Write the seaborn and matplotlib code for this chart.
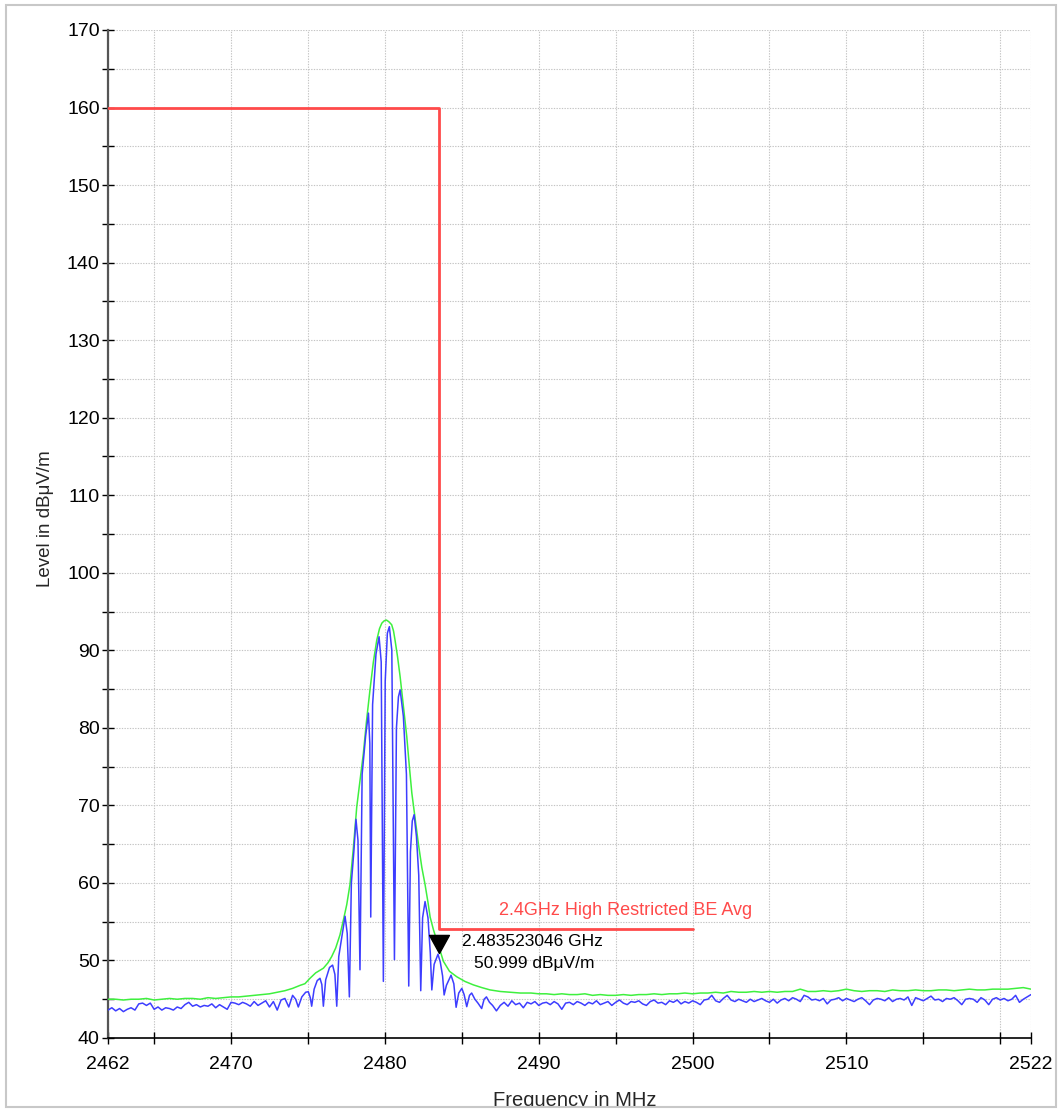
import numpy as np
import pandas as pd
import matplotlib
matplotlib.use("Agg")
import matplotlib.pyplot as plt
from matplotlib.path import Path
from matplotlib.patches import Rectangle
import seaborn as sns

# ---------------- data ----------------
# Blue trace (average detector), left noise floor 2462.00 .. 2474.00 step 0.25
blue_left_freq = np.arange(2462.0, 2474.001, 0.25)
blue_left_level = [
    43.6, 43.9, 43.5, 43.8, 43.4, 43.7, 43.9, 43.6,
    44.4, 44.5, 44.2, 44.5, 43.7, 44.0, 43.6, 43.9,
    43.8, 43.6, 44.0, 43.8, 44.3, 44.6, 44.1, 44.3,
    44.0, 44.2, 44.1, 44.4, 43.9, 44.3, 44.0, 43.7,
    44.6, 44.5, 44.3, 44.6, 44.4, 44.1, 44.7, 44.2,
    44.5, 44.8, 44.0, 44.7, 43.6, 44.9, 45.1, 44.0,
    45.5,
]

# Blue trace, emission region with lobes and nulls
blue_peak_freq = [
    2474.20, 2474.37, 2474.60, 2474.85, 2475.02, 2475.15, 2475.24, 2475.40,
    2475.60, 2475.78, 2475.90, 2476.00, 2476.15, 2476.40, 2476.60, 2476.75,
    2476.87, 2477.00, 2477.20, 2477.41, 2477.55, 2477.69, 2477.82, 2477.98,
    2478.12, 2478.25, 2478.38, 2478.52, 2478.75, 2478.93, 2479.02, 2479.08,
    2479.20, 2479.42, 2479.62, 2479.76, 2479.90, 2480.02, 2480.16, 2480.29,
    2480.45, 2480.62, 2480.75, 2480.88, 2480.99, 2481.20, 2481.40, 2481.55,
    2481.66, 2481.78, 2481.90, 2482.05, 2482.20, 2482.33, 2482.45, 2482.61,
    2482.80, 2482.95, 2483.05, 2483.20, 2483.45, 2483.60, 2483.75, 2483.85,
    2484.00, 2484.30, 2484.48, 2484.63, 2484.80, 2485.00, 2485.15, 2485.32,
    2485.50, 2485.64, 2485.85, 2486.05, 2486.29, 2486.45, 2486.60, 2486.80,
    2487.00,
]
blue_peak_level = [
    45.0, 44.0, 45.3, 45.9, 45.97, 45.2, 44.1, 46.3,
    47.4, 47.7, 46.9, 44.1, 47.5, 49.1, 49.4, 48.2,
    44.1, 50.5, 53.0, 55.7, 53.5, 45.3, 60.0, 64.0,
    68.2, 65.5, 48.8, 74.0, 79.0, 81.9, 78.0, 55.6,
    83.0, 89.5, 91.75, 88.5, 47.3, 86.0, 92.2, 93.05,
    90.0, 50.1, 80.0, 84.0, 84.9, 81.5, 74.0, 46.7,
    64.0, 68.0, 68.8, 66.0, 61.0, 46.1, 55.5, 57.6,
    55.5, 51.0, 46.2, 49.5, 50.8, 49.8, 48.0, 45.55,
    46.8, 48.1, 47.0, 43.96, 45.8, 46.4, 45.6, 44.04,
    45.5, 45.8, 45.0, 44.5, 43.8, 45.0, 45.3, 44.6,
    44.2,
]

# Blue trace, right noise floor 2487.25 .. 2522.00 step 0.25
blue_right_freq = np.arange(2487.25, 2522.001, 0.25)
blue_right_level = [
    43.5, 44.2, 44.6, 44.1, 44.8, 44.3, 44.5, 43.9,
    44.6, 44.4, 44.7, 44.2, 44.5, 44.6, 44.3, 44.7,
    44.4, 43.7, 44.5, 44.6, 44.3, 44.7, 44.5, 44.2,
    44.6, 44.4, 44.8, 44.3, 44.5, 44.7, 44.2, 44.6,
    44.9, 44.5, 44.3, 44.7, 44.6, 44.8, 44.4, 44.2,
    44.7, 44.9, 44.5, 44.6, 44.3, 44.8, 44.6, 44.9,
    44.4, 44.7, 44.5, 44.8, 44.6, 44.3, 44.9, 45.0,
    45.5, 44.8, 44.6, 45.1, 45.5, 44.9, 44.7, 45.0,
    44.8, 44.6, 45.0, 44.7, 44.9, 45.1, 44.8, 44.6,
    45.0, 44.5, 44.9, 45.1, 44.8, 45.2, 45.0, 44.7,
    45.5, 45.3, 44.9, 45.0, 44.8, 45.1, 44.4, 44.9,
    45.0, 45.2, 44.8, 45.1, 44.9, 44.7, 45.0, 45.2,
    44.8, 44.3, 44.9, 45.1, 45.0, 44.8, 45.2, 44.7,
    45.0, 45.1, 44.9, 45.3, 44.2, 45.2, 45.0, 44.8,
    45.1, 45.4, 44.9, 45.0, 44.7, 45.1, 45.0, 45.2,
    44.8, 44.3, 45.0, 45.1, 45.0, 44.6, 45.2, 44.9,
    44.3, 45.0, 45.2, 44.9, 45.1, 44.8, 45.0, 45.5,
    44.6, 45.0, 45.3, 45.6,
]

# Green trace (peak detector), left floor 2462.0 .. 2473.5 step 0.5
green_left_freq = np.arange(2462.0, 2473.501, 0.5)
green_left_level = [
    45.0, 45.0, 44.9, 45.0, 45.0, 45.1, 44.9, 45.0,
    45.1, 45.0, 45.1, 45.1, 45.0, 45.2, 45.1, 45.2,
    45.3, 45.3, 45.4, 45.5, 45.6, 45.7, 45.9, 46.1,
]

# Green trace, emission envelope
green_peak_freq = [
    2474.00, 2474.50, 2474.80, 2475.13, 2475.50, 2476.00, 2476.30, 2476.54,
    2476.80, 2477.08, 2477.30, 2477.52, 2477.73, 2477.95, 2478.17, 2478.40,
    2478.60, 2478.80, 2479.03, 2479.25, 2479.47, 2479.65, 2479.80, 2479.95,
    2480.10, 2480.25, 2480.44, 2480.56, 2480.66, 2480.82, 2480.99, 2481.20,
    2481.42, 2481.60, 2481.75, 2481.90, 2482.05, 2482.18, 2482.40, 2482.61,
    2482.80, 2482.94, 2483.15, 2483.37, 2483.60, 2483.80, 2484.20, 2484.67,
    2485.20, 2485.75, 2486.30, 2486.84, 2487.50, 2488.20, 2488.80, 2489.20,
]
green_peak_level = [
    46.4, 46.8, 47.0, 47.7, 48.4, 49.0, 49.7, 50.5,
    51.6, 53.3, 55.2, 57.2, 59.8, 64.5, 69.8, 73.5,
    76.7, 80.8, 84.9, 88.5, 91.3, 92.8, 93.5, 93.8,
    93.9, 93.7, 93.3, 92.5, 91.3, 89.2, 86.6, 82.8,
    78.9, 74.8, 71.6, 69.3, 67.0, 65.0, 62.0, 59.8,
    57.5, 55.6, 54.0, 52.6, 51.2, 49.9, 48.6, 47.9,
    47.3, 46.85, 46.5, 46.2, 46.0, 45.9, 45.8, 45.8,
]

# Green trace, right floor 2489.5 .. 2522.0 step 0.5
green_right_freq = np.arange(2489.5, 2522.001, 0.5)
green_right_level = [
    45.8, 45.7, 45.7, 45.6, 45.7, 45.6, 45.6, 45.7,
    45.5, 45.6, 45.5, 45.5, 45.6, 45.5, 45.6, 45.6,
    45.7, 45.6, 45.7, 45.7, 45.8, 45.7, 45.8, 45.8,
    45.9, 45.8, 46.0, 45.9, 45.9, 46.0, 45.9, 46.0,
    45.9, 46.0, 46.0, 46.3, 46.0, 46.0, 46.1, 46.0,
    46.1, 46.3, 46.1, 46.0, 46.1, 46.1, 46.0, 46.2,
    46.1, 46.1, 46.2, 46.1, 46.1, 46.2, 46.2, 46.1,
    46.2, 46.3, 46.2, 46.2, 46.3, 46.3, 46.3, 46.4,
    46.5, 46.3,
]

# Limit line
limit_freq = [2462.0, 2483.5, 2483.5, 2500.0]
limit_level = [160.0, 160.0, 54.0, 54.0]
limit_label = "2.4GHz High Restricted BE Avg"

# Marker
marker_freq = 2483.523046
marker_level = 50.999
marker_text_freq = "2.483523046 GHz"
marker_text_level = "50.999 dBμV/m"

x_major = [2462, 2470, 2480, 2490, 2500, 2510, 2522]
x_minor = [2465, 2475, 2485, 2495, 2505, 2515, 2520]
y_major = list(range(40, 171, 10))
y_minor = list(range(45, 166, 10))

# ---------------- build frames ----------------
blue = pd.DataFrame({
    "freq": np.concatenate([blue_left_freq, blue_peak_freq, blue_right_freq]),
    "level": np.concatenate([blue_left_level, blue_peak_level, blue_right_level]),
})
green = pd.DataFrame({
    "freq": np.concatenate([green_left_freq, green_peak_freq, green_right_freq]),
    "level": np.concatenate([green_left_level, green_peak_level, green_right_level]),
})
limit = pd.DataFrame({"freq": limit_freq, "level": limit_level})

# ---------------- style ----------------
sns.set_theme(style="white")
plt.rcParams["font.family"] = ["Liberation Sans", "DejaVu Sans"]

W, H = 1058, 1111
fig = plt.figure(figsize=(W / 100, H / 100), dpi=100)
fig.patch.set_facecolor("white")
L, R, T, B = 108, 1031, 30, 1038
ax = fig.add_axes([L / W, 1 - B / H, (R - L) / W, (B - T) / H])
ax.set_facecolor("white")

GREEN = "#3ef03e"
BLUE = "#3d3dff"
RED = "#ff4a4a"

sns.lineplot(data=green, x="freq", y="level", ax=ax, color=GREEN, lw=1.1,
             estimator=None, sort=False, zorder=3)
sns.lineplot(data=blue, x="freq", y="level", ax=ax, color=BLUE, lw=1.1,
             estimator=None, sort=False, zorder=4)
sns.lineplot(data=limit, x="freq", y="level", ax=ax, color=RED, lw=2.0,
             estimator=None, sort=False, zorder=5)

# marker triangle with tip at the data point
tri = Path([(-0.55, 1.0), (0.55, 1.0), (0.0, 0.0), (-0.55, 1.0)],
           [Path.MOVETO, Path.LINETO, Path.LINETO, Path.CLOSEPOLY])
ax.plot([marker_freq], [marker_level], linestyle="none", marker=tri,
        markersize=26, color="black", zorder=6)

ax.text(2485.02, 52.5, marker_text_freq, fontsize=12.5, color="black",
        ha="left", va="center", zorder=7)
ax.text(2485.8, 49.55, marker_text_level, fontsize=12.5, color="black",
        ha="left", va="center", zorder=7)
ax.text(2487.4, 56.4, limit_label, fontsize=13, color=RED,
        ha="left", va="center", zorder=7)

ax.set_xlim(2462, 2522)
ax.set_ylim(40, 170)
ax.set_xticks(x_major)
ax.set_xticks(x_minor, minor=True)
ax.set_yticks(y_major)
ax.set_yticks(y_minor, minor=True)
ax.set_xticklabels([str(v) for v in x_major])
ax.set_yticklabels([str(v) for v in y_major])

ax.grid(True, which="both", color="#c4c4c4", linestyle=(0, (1.2, 1.2)), linewidth=0.8, zorder=0)
ax.set_axisbelow(True)

ax.tick_params(axis="both", which="both", direction="inout", length=8, width=1.0,
               colors="black", labelsize=14)
ax.tick_params(axis="x", which="both", pad=9, bottom=True)
ax.tick_params(axis="y", which="both", pad=2, left=True)
for side in ["top", "right"]:
    ax.spines[side].set_visible(False)
ax.spines["left"].set_color("#555555")
ax.spines["left"].set_linewidth(1.6)
ax.spines["bottom"].set_color("black")
ax.spines["bottom"].set_linewidth(1.2)
ax.set_xlabel("")
ax.set_ylabel("")

fig.text(45 / W, 1 - 519 / H, "Level in dBμV/m", rotation=90, fontsize=13.5,
         ha="center", va="center")
fig.text(575 / W, 1 - 1106 / H, "Frequency in MHz", fontsize=14.5,
         ha="center", va="baseline", zorder=3)

# outer frame, cut off at the bottom
fig.patches.append(Rectangle((0, 0), 1, 4 / H, transform=fig.transFigure,
                             facecolor="white", edgecolor="none", zorder=10))
fig.patches.append(Rectangle((6 / W, 1 - 1107 / H), (1056 - 6) / W, (1107 - 5) / H,
                             transform=fig.transFigure, facecolor="none",
                             edgecolor="#c8c8c8", linewidth=1.5, zorder=11))

fig.savefig("out.png", dpi=100)
